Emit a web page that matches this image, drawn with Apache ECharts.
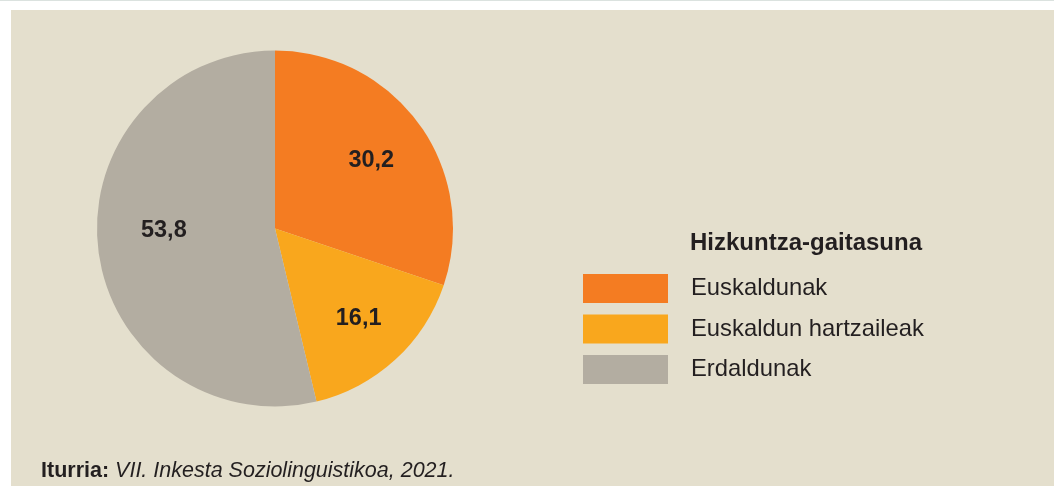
<!DOCTYPE html>
<html>
<head>
<meta charset="utf-8">
<script src="https://cdn.jsdelivr.net/npm/echarts@6/dist/echarts.min.js"></script>
<style>
  html, body { margin: 0; padding: 0; background: #ffffff; }
  #chart { width: 1054px; height: 486px; }
</style>
</head>
<body>
<div id="chart"></div>
<script>
// Hizkuntza-gaitasuna (%)
var categories = ['Euskaldunak', 'Euskaldun hartzaileak', 'Erdaldunak'];
var values = [30.2, 16.1, 53.8];
var colors = ['#f47c22', '#f9a71d', '#b3ada1'];

var legendTitle = 'Hizkuntza-gaitasuna';
var sourceLabel = 'Iturria:';
var sourceText = 'VII. Inkesta Soziolinguistikoa, 2021.';

// small nudges for the value labels (styling only)
var labelNudge = [[-2, 3], [2, 1], [9, -12]];

var FONT = '"Liberation Sans", Arial, Helvetica, sans-serif';
var TEXT = '#231f20';

function pieData(withLabels) {
    return categories.map(function (name, i) {
        var d = {
            name: name,
            value: values[i],
            itemStyle: { color: withLabels ? 'rgba(0,0,0,0)' : colors[i] }
        };
        if (withLabels) {
            d.label = { offset: labelNudge[i] };
        }
        return d;
    });
}

var chart = echarts.init(document.getElementById('chart'));

var option = {
    animation: false,
    backgroundColor: '#ffffff',
    graphic: [
        // top rule + beige panel
        { type: 'rect', shape: { x: 0, y: 0, width: 1054, height: 1 }, style: { fill: '#dbe2df' }, z: -10 },
        { type: 'rect', shape: { x: 11, y: 10, width: 1043, height: 476 }, style: { fill: '#e4dfcd' }, z: -10 },
        {
            type: 'text', left: 690, top: 231,
            style: { text: legendTitle, font: 'bold 24px ' + FONT, fill: TEXT }
        },
        {
            type: 'text', left: 41, top: 460,
            style: {
                text: '{b|' + sourceLabel + ' }{i|' + sourceText + '}',
                rich: {
                    b: { font: 'bold 21.5px ' + FONT, fill: TEXT },
                    i: { font: 'italic 21.5px ' + FONT, fill: TEXT }
                }
            }
        }
    ],
    legend: {
        orient: 'vertical',
        left: 583,
        top: 274,
        padding: 0,
        icon: 'rect',
        itemWidth: 85,
        itemHeight: 29,
        itemGap: 11.5,
        selectedMode: false,
        data: categories,
        textStyle: {
            fontFamily: FONT,
            fontSize: 23.8,
            color: TEXT,
            padding: [0, 0, 0, 18]
        }
    },
    series: [
        {
            type: 'pie',
            center: [275, 228.5],
            radius: [0, 178],
            startAngle: 90,
            clockwise: true,
            silent: true,
            label: { show: false },
            labelLine: { show: false },
            itemStyle: { borderWidth: 0 },
            data: pieData(false)
        },
        {
            // label carrier: same slices, transparent, so labels sit at ~2/3 radius
            type: 'pie',
            center: [275, 228.5],
            radius: [58, 178],
            startAngle: 90,
            clockwise: true,
            silent: true,
            legendHoverLink: false,
            label: {
                show: true,
                position: 'inside',
                formatter: function (p) { return String(p.value).replace('.', ','); },
                fontFamily: FONT,
                fontWeight: 'bold',
                fontSize: 23.5,
                color: TEXT
            },
            labelLine: { show: false },
            data: pieData(true)
        }
    ]
};

chart.setOption(option);
</script>
</body>
</html>
